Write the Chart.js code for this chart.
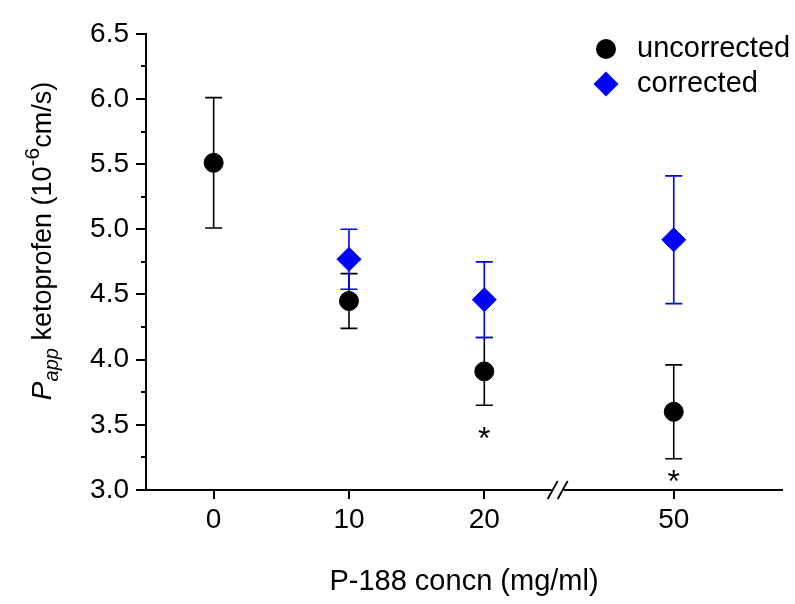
<!DOCTYPE html>
<html>
<head>
<meta charset="utf-8">
<script src="https://cdn.jsdelivr.net/npm/chart.js@4.4.1/dist/chart.umd.min.js"></script>
<style>
  html, body { margin: 0; padding: 0; background: #fff; }
  #wrap { width: 795px; height: 604px; }
</style>
</head>
<body>
<div id="wrap"><canvas id="chart" width="795" height="604"></canvas></div>
<script>
// concentrations on the x axis (the axis is broken between 20 and 50)
const CONC = [0, 10, 20, 50]
const CONC_LABELS = ['0', '10', '20', '50']

// uncorrected Papp, mean and error
const UNCORR_CONC = [0, 10, 20, 50]
const UNCORR_MEAN = [5.51, 4.45, 3.91, 3.60]
const UNCORR_ERR = [0.50, 0.21, 0.26, 0.36]

// corrected Papp, mean and error
const CORR_CONC = [10, 20, 50]
const CORR_MEAN = [4.77, 4.46, 4.92]
const CORR_ERR = [0.23, 0.29, 0.49]

// significance marks
const STAR_CONC = [20, 50]
const STAR_Y = [3.45, 3.12]

const Y_MIN = 3.0
const Y_MAX = 6.5

// axis break: everything past BREAK_AT is pulled left by BREAK_GAP
const BREAK_AT = 25.2
const BREAK_GAP = 16
const xPos = c => (c > BREAK_AT ? c - BREAK_GAP : c)

const FONT = "'Liberation Sans', Arial, sans-serif"
const BLUE = '#0000ff'

const toPoints = (xs, ys) => xs.map((c, i) => ({ x: xPos(c), y: ys[i] }))

const decor = {
  id: 'decor',
  beforeDatasetsDraw(chart) {
    const { ctx, scales: { x, y } } = chart
    // error bars, drawn under the markers
    const bars = [
      { xs: UNCORR_CONC, m: UNCORR_MEAN, e: UNCORR_ERR, color: '#000' },
      { xs: CORR_CONC, m: CORR_MEAN, e: CORR_ERR, color: BLUE }
    ]
    ctx.save()
    ctx.lineWidth = 1.6
    bars.forEach(b => {
      ctx.strokeStyle = b.color
      b.xs.forEach((c, i) => {
        const px = x.getPixelForValue(xPos(c))
        const top = y.getPixelForValue(b.m[i] + b.e[i])
        const bot = y.getPixelForValue(b.m[i] - b.e[i])
        ctx.beginPath()
        ctx.moveTo(px, top); ctx.lineTo(px, bot)
        ctx.moveTo(px - 8.5, top); ctx.lineTo(px + 8.5, top)
        ctx.moveTo(px - 8.5, bot); ctx.lineTo(px + 8.5, bot)
        ctx.stroke()
      })
    })
    ctx.restore()
  },
  afterDraw(chart) {
    const { ctx, chartArea: area, scales: { x, y } } = chart
    ctx.save()
    ctx.strokeStyle = '#000'
    ctx.lineWidth = 2

    // y tick marks, major every 0.5, minor in between
    for (let v = Y_MIN; v <= Y_MAX + 1e-9; v += 0.25) {
      const py = Math.round(y.getPixelForValue(v))
      const major = Math.abs(v * 2 - Math.round(v * 2)) < 1e-6
      ctx.beginPath()
      ctx.moveTo(area.left - (major ? 10 : 5), py)
      ctx.lineTo(area.left, py)
      ctx.stroke()
    }
    // x tick marks
    CONC.forEach(c => {
      const px = Math.round(x.getPixelForValue(xPos(c)))
      ctx.beginPath()
      ctx.moveTo(px, area.bottom)
      ctx.lineTo(px, area.bottom + 9)
      ctx.stroke()
    })

    // axis break //
    const bx = x.getPixelForValue(BREAK_AT)
    ctx.fillStyle = '#fff'
    ctx.fillRect(bx - 3, area.bottom - 2, 12, 4)
    ctx.lineWidth = 1.8
    ;[bx - 2, bx + 8].forEach(cx => {
      ctx.beginPath()
      ctx.moveTo(cx - 5, area.bottom + 9)
      ctx.lineTo(cx + 5, area.bottom - 9)
      ctx.stroke()
    })

    // asterisks
    ctx.fillStyle = '#000'
    ctx.font = `32px ${FONT}`
    ctx.textAlign = 'center'
    ctx.textBaseline = 'alphabetic'
    STAR_CONC.forEach((c, i) => {
      ctx.fillText('*', x.getPixelForValue(xPos(c)), y.getPixelForValue(STAR_Y[i]) + 18)
    })

    // legend
    const ds = chart.data.datasets
    const legendY = [49, 84]
    ds.forEach((d, i) => {
      const cy = legendY[i]
      ctx.fillStyle = d.backgroundColor
      ctx.beginPath()
      if (d.pointStyle === 'rectRot') {
        ctx.moveTo(606 - 12.5, cy); ctx.lineTo(606, cy - 12.5)
        ctx.lineTo(606 + 12.5, cy); ctx.lineTo(606, cy + 12.5)
        ctx.closePath()
      } else {
        ctx.arc(606, cy, 10, 0, Math.PI * 2)
      }
      ctx.fill()
      ctx.fillStyle = '#000'
      ctx.font = `29px ${FONT}`
      ctx.textAlign = 'left'
      ctx.fillText(d.label, 637, cy + 8)
    })

    // x axis title
    ctx.textAlign = 'center'
    ctx.font = `29px ${FONT}`
    ctx.fillText('P-188 concn (mg/ml)', (area.left + area.right) / 2, 590)

    // y axis title, rotated, with sub/superscripts
    const parts = [
      { t: 'P', font: `italic 28px ${FONT}`, dy: 0 },
      { t: 'app', font: `italic 20px ${FONT}`, dy: 7 },
      { t: ' ketoprofen (10', font: `27px ${FONT}`, dy: 0 },
      { t: '-6', font: `21px ${FONT}`, dy: -12 },
      { t: 'cm/s)', font: `27px ${FONT}`, dy: 0 }
    ]
    let total = 0
    parts.forEach(p => { ctx.font = p.font; p.w = ctx.measureText(p.t).width; total += p.w })
    ctx.translate(51, 241)
    ctx.rotate(-Math.PI / 2)
    ctx.textAlign = 'left'
    let cx = -total / 2
    parts.forEach(p => {
      ctx.font = p.font
      ctx.fillText(p.t, cx, p.dy)
      cx += p.w
    })
    ctx.restore()
  }
}

new Chart(document.getElementById('chart'), {
  type: 'scatter',
  data: {
    datasets: [
      {
        label: 'uncorrected',
        data: toPoints(UNCORR_CONC, UNCORR_MEAN),
        pointStyle: 'circle',
        radius: 9.5,
        backgroundColor: '#000',
        borderColor: '#000',
        borderWidth: 1
      },
      {
        label: 'corrected',
        data: toPoints(CORR_CONC, CORR_MEAN),
        pointStyle: 'rectRot',
        radius: 12,
        backgroundColor: BLUE,
        borderColor: BLUE,
        borderWidth: 1
      }
    ]
  },
  options: {
    responsive: false,
    devicePixelRatio: 1,
    animation: false,
    layout: { padding: { top: 23, right: 13, left: 0, bottom: 0 } },
    plugins: {
      legend: { display: false },
      tooltip: { enabled: false }
    },
    scales: {
      x: {
        type: 'linear',
        min: -5,
        max: 42,
        afterFit: s => { s.height = 114 },
        afterBuildTicks: s => { s.ticks = CONC.map(c => ({ value: xPos(c) })) },
        ticks: {
          callback: (v, i) => CONC_LABELS[i],
          font: { family: FONT, size: 28 },
          color: '#000',
          padding: 13,
          maxRotation: 0,
          autoSkip: false
        },
        grid: { drawOnChartArea: false, drawTicks: false },
        border: { color: '#000', width: 2 }
      },
      y: {
        min: Y_MIN,
        max: Y_MAX,
        afterFit: s => { s.width = 146 },
        ticks: {
          stepSize: 0.5,
          callback: v => v.toFixed(1),
          font: { family: FONT, size: 28 },
          color: '#000',
          padding: 17
        },
        grid: { drawOnChartArea: false, drawTicks: false },
        border: { color: '#000', width: 2 }
      }
    }
  },
  plugins: [decor]
})
</script>
</body>
</html>
